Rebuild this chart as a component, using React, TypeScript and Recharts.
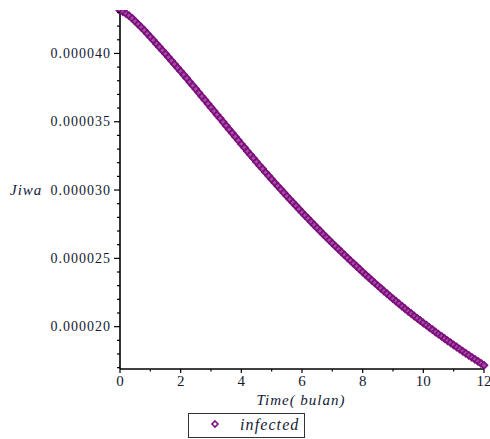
import React from 'react';
import { ScatterChart, Scatter, XAxis, YAxis } from 'recharts';

// time grid (months), step 0.1
const TIME = Array.from({ length: 121 }, (_, i) => i / 10);

// infected, in units of 1e-5
const INFECTED_E5 = [
  4.313, 4.304, 4.292, 4.276, 4.257, 4.235, 4.214, 4.192, 4.169, 4.145,
  4.12, 4.096, 4.071, 4.047, 4.022, 3.997, 3.972, 3.946, 3.921, 3.895,
  3.87, 3.844, 3.818, 3.791, 3.765, 3.739, 3.712, 3.685, 3.659, 3.632,
  3.605, 3.578, 3.551, 3.525, 3.498, 3.471, 3.444, 3.417, 3.391, 3.364,
  3.337, 3.311, 3.284, 3.258, 3.232, 3.206, 3.18, 3.155, 3.129, 3.104,
  3.079, 3.054, 3.03, 3.005, 2.981, 2.956, 2.932, 2.908, 2.885, 2.861,
  2.837, 2.814, 2.791, 2.768, 2.745, 2.722, 2.7, 2.677, 2.655, 2.633,
  2.611, 2.589, 2.568, 2.547, 2.525, 2.504, 2.483, 2.462, 2.442, 2.421,
  2.4, 2.38, 2.36, 2.34, 2.32, 2.3, 2.281, 2.261, 2.242, 2.223,
  2.204, 2.186, 2.168, 2.149, 2.131, 2.113, 2.096, 2.078, 2.061, 2.044,
  2.027, 2.011, 1.994, 1.978, 1.961, 1.945, 1.929, 1.913, 1.897, 1.882,
  1.866, 1.851, 1.835, 1.82, 1.805, 1.79, 1.775, 1.761, 1.746, 1.732,
  1.717,
];

const X_TICKS = [0, 1, 2, 3, 4, 5, 6, 7, 8, 9, 10, 11, 12];
// y ticks in units of 1e-6, labelled every 5
const Y_TICKS_E6 = [
  17, 18, 19, 20, 21, 22, 23, 24, 25, 26, 27, 28, 29, 30,
  31, 32, 33, 34, 35, 36, 37, 38, 39, 40, 41, 42, 43,
];

const data = TIME.map((t, i) => ({ t, v: INFECTED_E5[i] * 1e-5 }));
const yTicks = Y_TICKS_E6.map((n) => n * 1e-6);

const PURPLE = '#7d0f7d';
const FONT = 'Liberation Serif';
const TXT = '#141a33';

const Diamond = (props: any) => {
  const { cx, cy } = props;
  if (cx == null || cy == null) return null;
  const r = 3.4;
  return (
    <polygon
      points={`${cx},${cy - r} ${cx + r},${cy} ${cx},${cy + r} ${cx - r},${cy}`}
      fill="#a64fa6"
      stroke={PURPLE}
      strokeWidth={1.8}
    />
  );
};

const YTick = (props: any) => {
  const { x, y, payload } = props;
  const n = Math.round(payload.value * 1e6);
  const major = n % 5 === 0;
  return (
    <g>
      <line x1={x - (major ? 6 : 3)} x2={x} y1={y} y2={y} stroke="#000" strokeWidth={1.2} />
      {major && (
        <text
          x={x - 9}
          y={y}
          dy={4.5}
          textAnchor="end"
          fontFamily={FONT}
          fontSize={14}
          letterSpacing={1}
          fill={TXT}
        >
          {(n * 1e-6).toFixed(6)}
        </text>
      )}
    </g>
  );
};

const XTick = (props: any) => {
  const { x, y, payload } = props;
  const major = payload.value % 2 === 0;
  return (
    <g>
      <line x1={x} x2={x} y1={y} y2={y + (major ? 4 : 2.5)} stroke="#000" strokeWidth={1.2} />
      {major && (
        <text x={x} y={y + 17} textAnchor="middle" fontFamily={FONT} fontSize={15} fill={TXT}>
          {payload.value}
        </text>
      )}
    </g>
  );
};

export default function App() {
  return (
    <div style={{ position: 'absolute', left: 0, top: 0, width: 490, height: 439, background: '#fff' }}>
      <ScatterChart width={490} height={439} margin={{ top: 10, right: 6, bottom: 0, left: 0 }}>
        <XAxis
          dataKey="t"
          type="number"
          domain={[0, 12]}
          ticks={X_TICKS}
          interval={0}
          tickSize={0}
          tickMargin={0}
          height={70}
          tick={<XTick />}
          axisLine={{ stroke: '#000', strokeWidth: 1.6 }}
        />
        <YAxis
          dataKey="v"
          type="number"
          domain={[1.69e-5, 4.318e-5]}
          ticks={yTicks}
          interval={0}
          tickSize={0}
          tickMargin={0}
          width={120}
          allowDataOverflow
          tick={<YTick />}
          axisLine={{ stroke: '#000', strokeWidth: 1.6 }}
        />
        <Scatter data={data} shape={<Diamond />} isAnimationActive={false} />
      </ScatterChart>
      <svg
        width={490}
        height={439}
        style={{ position: 'absolute', left: 0, top: 0, pointerEvents: 'none' }}
      >
        <text x={10} y={195} fontFamily={FONT} fontStyle="italic" fontSize={15} letterSpacing={1} fill={TXT}>
          Jiwa
        </text>
        <text
          x={301}
          y={405}
          textAnchor="middle"
          fontFamily={FONT}
          fontStyle="italic"
          fontSize={15}
          letterSpacing={1}
          fill={TXT}
        >
          Time( bulan)
        </text>
        <rect x={188.5} y={413.5} width={116} height={24} fill="#fff" stroke="#333" strokeWidth={1} />
        <polygon points="215,421 218,424 215,427 212,424" fill="#fff" stroke={PURPLE} strokeWidth={1.6} />
        <text x={240} y={430} fontFamily={FONT} fontStyle="italic" fontSize={16} letterSpacing={1.1} fill={TXT}>
          infected
        </text>
      </svg>
    </div>
  );
}
